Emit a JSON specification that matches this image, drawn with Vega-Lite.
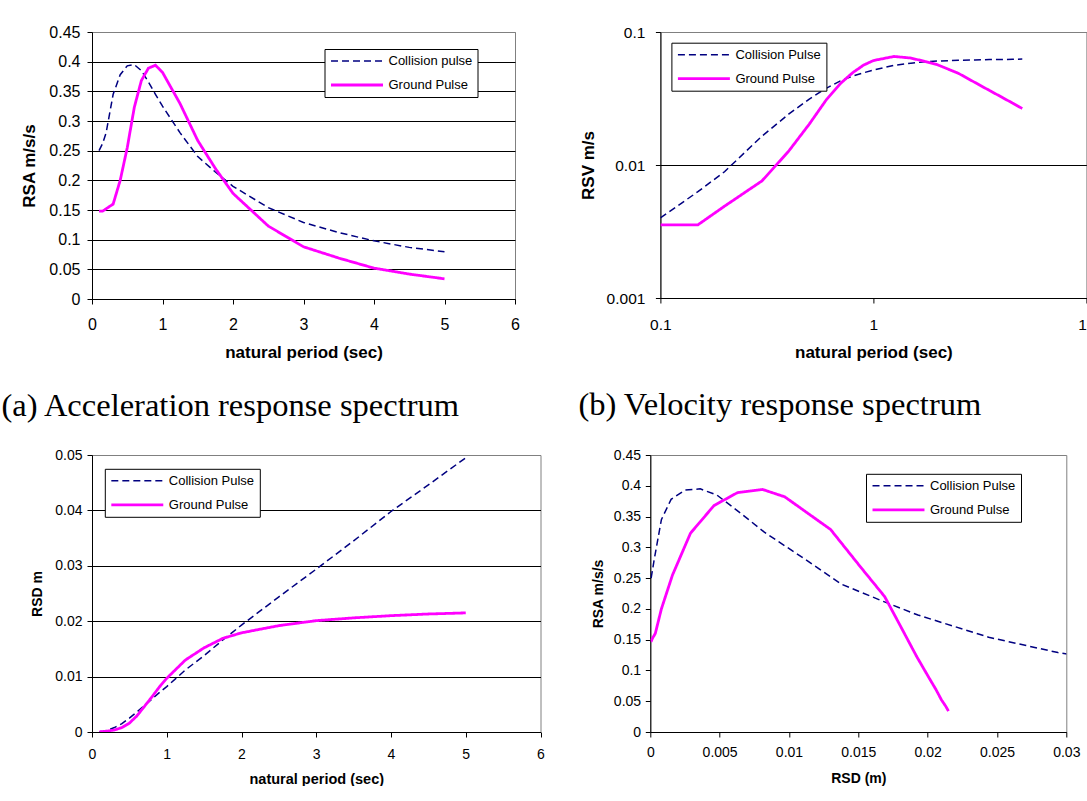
{
  "$schema": "https://vega.github.io/schema/vega-lite/v6.json",
  "background": "white",
  "padding": {"left": 1, "top": 23, "right": 0, "bottom": 0},
  "datasets": {
    "spectra": [
      {"T": 0.1, "series": "Collision Pulse", "RSA": 0.25, "RSV": 0.004, "RSD": 0.00006},
      {"T": 0.15, "series": "Collision Pulse", "RSA": 0.262, "RSV": 0.0063, "RSD": 0.00015},
      {"T": 0.2, "series": "Collision Pulse", "RSA": 0.28, "RSV": 0.0089, "RSD": 0.00028},
      {"T": 0.3, "series": "Collision Pulse", "RSA": 0.345, "RSV": 0.0165, "RSD": 0.0008},
      {"T": 0.4, "series": "Collision Pulse", "RSA": 0.378, "RSV": 0.0241, "RSD": 0.0015},
      {"T": 0.5, "series": "Collision Pulse", "RSA": 0.393, "RSV": 0.0313, "RSD": 0.0025},
      {"T": 0.6, "series": "Collision Pulse", "RSA": 0.395, "RSV": 0.0377, "RSD": 0.0036},
      {"T": 0.7, "series": "Collision Pulse", "RSA": 0.385, "RSV": 0.0429, "RSD": 0.0048},
      {"T": 0.8, "series": "Collision Pulse", "RSA": 0.366, "RSV": 0.0466, "RSD": 0.0059},
      {"T": 0.9, "series": "Collision Pulse", "RSA": 0.345, "RSV": 0.0494, "RSD": 0.0071},
      {"T": 1.0, "series": "Collision Pulse", "RSA": 0.325, "RSV": 0.0517, "RSD": 0.0082},
      {"T": 1.25, "series": "Collision Pulse", "RSA": 0.28, "RSV": 0.0562, "RSD": 0.0112},
      {"T": 1.5, "series": "Collision Pulse", "RSA": 0.24, "RSV": 0.0582, "RSD": 0.0138},
      {"T": 1.75, "series": "Collision Pulse", "RSA": 0.214, "RSV": 0.0598, "RSD": 0.0166},
      {"T": 2.0, "series": "Collision Pulse", "RSA": 0.19, "RSV": 0.0605, "RSD": 0.0193},
      {"T": 2.5, "series": "Collision Pulse", "RSA": 0.154, "RSV": 0.0613, "RSD": 0.0244},
      {"T": 3.0, "series": "Collision Pulse", "RSA": 0.129, "RSV": 0.0616, "RSD": 0.0294},
      {"T": 3.5, "series": "Collision Pulse", "RSA": 0.112, "RSV": 0.062, "RSD": 0.0345},
      {"T": 4.0, "series": "Collision Pulse", "RSA": 0.098, "RSV": 0.0622, "RSD": 0.0398},
      {"T": 4.5, "series": "Collision Pulse", "RSA": 0.087, "RSV": 0.0623, "RSD": 0.0446},
      {"T": 5.0, "series": "Collision Pulse", "RSA": 0.0795, "RSV": 0.0626, "RSD": 0.0495},
      {"T": 0.1, "series": "Ground Pulse", "RSA": 0.148, "RSV": 0.00355, "RSD": 0.00004},
      {"T": 0.15, "series": "Ground Pulse", "RSA": 0.148, "RSV": 0.00355, "RSD": 0.00008},
      {"T": 0.2, "series": "Ground Pulse", "RSA": 0.152, "RSV": 0.0049, "RSD": 0.00015},
      {"T": 0.3, "series": "Ground Pulse", "RSA": 0.16, "RSV": 0.0076, "RSD": 0.00036},
      {"T": 0.4, "series": "Ground Pulse", "RSA": 0.2, "RSV": 0.0127, "RSD": 0.0008},
      {"T": 0.5, "series": "Ground Pulse", "RSA": 0.255, "RSV": 0.0203, "RSD": 0.0016},
      {"T": 0.6, "series": "Ground Pulse", "RSA": 0.323, "RSV": 0.0308, "RSD": 0.0029},
      {"T": 0.7, "series": "Ground Pulse", "RSA": 0.368, "RSV": 0.041, "RSD": 0.0046},
      {"T": 0.8, "series": "Ground Pulse", "RSA": 0.389, "RSV": 0.0495, "RSD": 0.0063},
      {"T": 0.9, "series": "Ground Pulse", "RSA": 0.394, "RSV": 0.0564, "RSD": 0.0081},
      {"T": 1.0, "series": "Ground Pulse", "RSA": 0.382, "RSV": 0.061, "RSD": 0.0097},
      {"T": 1.25, "series": "Ground Pulse", "RSA": 0.329, "RSV": 0.0655, "RSD": 0.013},
      {"T": 1.5, "series": "Ground Pulse", "RSA": 0.267, "RSV": 0.0637, "RSD": 0.0152},
      {"T": 1.75, "series": "Ground Pulse", "RSA": 0.22, "RSV": 0.06, "RSD": 0.0169},
      {"T": 2.0, "series": "Ground Pulse", "RSA": 0.178, "RSV": 0.0567, "RSD": 0.0179},
      {"T": 2.5, "series": "Ground Pulse", "RSA": 0.123, "RSV": 0.049, "RSD": 0.0192},
      {"T": 3.0, "series": "Ground Pulse", "RSA": 0.088, "RSV": 0.0417, "RSD": 0.0201},
      {"T": 3.5, "series": "Ground Pulse", "RSA": 0.069, "RSV": 0.0364, "RSD": 0.0206},
      {"T": 4.0, "series": "Ground Pulse", "RSA": 0.052, "RSV": 0.0324, "RSD": 0.021},
      {"T": 4.5, "series": "Ground Pulse", "RSA": 0.042, "RSV": 0.0292, "RSD": 0.0213},
      {"T": 5.0, "series": "Ground Pulse", "RSA": 0.034, "RSV": 0.0266, "RSD": 0.0215}
    ]
  },
  "spacing": 24,
  "resolve": {
    "scale": {"color": "independent", "strokeDash": "independent", "strokeWidth": "independent"},
    "legend": {"color": "independent", "strokeDash": "independent", "strokeWidth": "independent"}
  },
  "vconcat": [
    {
      "hconcat": [
        {
          "width": 423,
          "height": 267,
          "data": {"name": "spectra"},
          "mark": {"type": "line", "clip": true},
          "title": {"text": "(a) Acceleration response spectrum", "dx": -90.5, "offset": 29},
          "encoding": {
            "x": {"field": "T", "type": "quantitative", "scale": {"domain": [0, 6], "nice": false, "zero": false},
              "axis": {"values": [0, 1, 2, 3, 4, 5, 6], "title": "natural period (sec)", "grid": false, "labelFontSize": 16, "titleFontSize": 17, "labelPadding": 12, "titlePadding": 12.5}},
            "y": {"field": "RSA", "type": "quantitative", "scale": {"domain": [0, 0.45], "nice": false},
              "axis": {"values": [0, 0.05, 0.1, 0.15, 0.2, 0.25, 0.3, 0.35, 0.4, 0.45], "format": "~g", "title": "RSA m/s/s", "grid": true,
                "gridColor": {"condition": {"test": "datum.value > 0.44", "value": "#808080"}, "value": "#000000"},
                "labelFontSize": 16, "titleFontSize": 17, "labelPadding": 7, "titlePadding": 10}},
            "color": {"field": "series", "type": "nominal", "scale": {"domain": ["Collision Pulse", "Ground Pulse"], "range": ["#000080", "#FF00FF"]},
              "legend": {"orient": "none", "legendX": 232.5, "legendY": 17, "title": null, "labelExpr": "datum.label == 'Collision Pulse' ? 'Collision pulse' : datum.label"}},
            "strokeDash": {"field": "series", "type": "nominal", "scale": {"domain": ["Collision Pulse", "Ground Pulse"], "range": [[7, 4], [1, 0]]},
              "legend": {"orient": "none", "legendX": 232.5, "legendY": 17, "title": null, "labelExpr": "datum.label == 'Collision Pulse' ? 'Collision pulse' : datum.label"}},
            "strokeWidth": {"field": "series", "type": "nominal", "scale": {"domain": ["Collision Pulse", "Ground Pulse"], "range": [1.5, 2.8]},
              "legend": {"orient": "none", "legendX": 232.5, "legendY": 17, "title": null, "labelExpr": "datum.label == 'Collision Pulse' ? 'Collision pulse' : datum.label"}},
            "order": {"field": "T", "type": "quantitative"}
          }
        },
        {
          "width": 426,
          "height": 266,
          "data": {"name": "spectra"},
          "mark": {"type": "line", "clip": true},
          "title": {"text": "(b) Velocity response spectrum", "dx": -82, "offset": 29},
          "encoding": {
            "x": {"field": "T", "type": "quantitative", "scale": {"type": "log", "domain": [0.1, 10], "nice": false},
              "axis": {"values": [0.1, 1, 10], "format": "~g", "title": "natural period (sec)", "grid": false, "labelFontSize": 15.5, "titleFontSize": 17, "labelPadding": 14.6, "titlePadding": 11}},
            "y": {"field": "RSV", "type": "quantitative", "scale": {"type": "log", "domain": [0.001, 0.1], "nice": false},
              "axis": {"values": [0.001, 0.01, 0.1], "format": "~g", "title": "RSV m/s", "grid": true,
                "gridColor": {"condition": {"test": "datum.value > 0.05", "value": "#808080"}, "value": "#000000"},
                "labelFontSize": 15.5, "titleFontSize": 17, "labelPadding": 10.5, "titlePadding": 9}},
            "color": {"field": "series", "type": "nominal", "scale": {"domain": ["Collision Pulse", "Ground Pulse"], "range": ["#000080", "#FF00FF"]},
              "legend": {"orient": "none", "legendX": 11, "legendY": 10.7, "title": null}},
            "strokeDash": {"field": "series", "type": "nominal", "scale": {"domain": ["Collision Pulse", "Ground Pulse"], "range": [[7, 4], [1, 0]]},
              "legend": {"orient": "none", "legendX": 11, "legendY": 10.7, "title": null}},
            "strokeWidth": {"field": "series", "type": "nominal", "scale": {"domain": ["Collision Pulse", "Ground Pulse"], "range": [1.5, 2.8]},
              "legend": {"orient": "none", "legendX": 11, "legendY": 10.7, "title": null}},
            "order": {"field": "T", "type": "quantitative"}
          }
        }
      ],
      "spacing": 57.4,
      "resolve": {
        "scale": {"color": "independent", "strokeDash": "independent", "strokeWidth": "independent"},
        "legend": {"color": "independent", "strokeDash": "independent", "strokeWidth": "independent"}
      }
    },
    {
      "hconcat": [
        {
          "width": 448.5,
          "height": 277,
          "data": {"name": "spectra"},
          "mark": {"type": "line", "clip": true},
          "encoding": {
            "x": {"field": "T", "type": "quantitative", "scale": {"domain": [0, 6], "nice": false, "zero": false},
              "axis": {"values": [0, 1, 2, 3, 4, 5, 6], "title": "natural period (sec)", "grid": false, "labelFontSize": 14, "titleFontSize": 14.5, "labelPadding": 10, "titlePadding": 11}},
            "y": {"field": "RSD", "type": "quantitative", "scale": {"domain": [0, 0.05], "nice": false},
              "axis": {"values": [0, 0.01, 0.02, 0.03, 0.04, 0.05], "format": "~g", "title": "RSD m", "grid": true,
                "gridColor": {"condition": {"test": "datum.value > 0.045", "value": "#808080"}, "value": "#000000"},
                "labelFontSize": 14, "titleFontSize": 14, "labelPadding": 5, "titlePadding": 10}},
            "color": {"field": "series", "type": "nominal", "scale": {"domain": ["Collision Pulse", "Ground Pulse"], "range": ["#000080", "#FF00FF"]},
              "legend": {"orient": "none", "legendX": 12.8, "legendY": 13.8, "title": null}},
            "strokeDash": {"field": "series", "type": "nominal", "scale": {"domain": ["Collision Pulse", "Ground Pulse"], "range": [[7, 4], [1, 0]]},
              "legend": {"orient": "none", "legendX": 12.8, "legendY": 13.8, "title": null}},
            "strokeWidth": {"field": "series", "type": "nominal", "scale": {"domain": ["Collision Pulse", "Ground Pulse"], "range": [1.5, 2.8]},
              "legend": {"orient": "none", "legendX": 12.8, "legendY": 13.8, "title": null}},
            "order": {"field": "T", "type": "quantitative"}
          }
        },
        {
          "width": 416,
          "height": 277,
          "data": {"name": "spectra"},
          "mark": {"type": "line", "clip": true},
          "encoding": {
            "x": {"field": "RSD", "type": "quantitative", "scale": {"domain": [0, 0.03], "nice": false, "zero": false},
              "axis": {"values": [0, 0.005, 0.01, 0.015, 0.02, 0.025, 0.03], "format": "~g", "title": "RSD (m)", "grid": false, "labelFontSize": 14, "titleFontSize": 14, "labelPadding": 8.5, "titlePadding": 12}},
            "y": {"field": "RSA", "type": "quantitative", "scale": {"domain": [0, 0.45], "nice": false},
              "axis": {"values": [0, 0.05, 0.1, 0.15, 0.2, 0.25, 0.3, 0.35, 0.4, 0.45], "format": "~g", "title": "RSA m/s/s", "grid": false,
                "labelFontSize": 14, "titleFontSize": 14, "labelPadding": 4.7, "titlePadding": 8}},
            "color": {"field": "series", "type": "nominal", "scale": {"domain": ["Collision Pulse", "Ground Pulse"], "range": ["#000080", "#FF00FF"]},
              "legend": {"orient": "none", "legendX": 215.7, "legendY": 18.8, "title": null}},
            "strokeDash": {"field": "series", "type": "nominal", "scale": {"domain": ["Collision Pulse", "Ground Pulse"], "range": [[7, 4], [1, 0]]},
              "legend": {"orient": "none", "legendX": 215.7, "legendY": 18.8, "title": null}},
            "strokeWidth": {"field": "series", "type": "nominal", "scale": {"domain": ["Collision Pulse", "Ground Pulse"], "range": [1.5, 2.8]},
              "legend": {"orient": "none", "legendX": 215.7, "legendY": 18.8, "title": null}},
            "order": {"field": "T", "type": "quantitative"}
          }
        }
      ],
      "spacing": 45.3,
      "resolve": {
        "scale": {"color": "independent", "strokeDash": "independent", "strokeWidth": "independent"},
        "legend": {"color": "independent", "strokeDash": "independent", "strokeWidth": "independent"}
      }
    }
  ],
  "config": {
    "font": "Liberation Sans",
    "view": {"stroke": "#808080", "strokeWidth": 1},
    "axis": {
      "domainColor": "#000000", "domainWidth": 1,
      "tickColor": "#000000", "tickSize": 5, "tickWidth": 1,
      "gridColor": "#000000", "gridWidth": 1, "gridOpacity": 1,
      "labelColor": "#000000", "titleColor": "#000000",
      "labelFont": "Liberation Sans", "titleFont": "Liberation Sans",
      "titleFontWeight": "bold", "labelFlush": false, "labelOverlap": false
    },
    "legend": {
      "strokeColor": "#000000", "fillColor": "#ffffff", "padding": 5,
      "labelFont": "Liberation Sans", "labelFontSize": 13, "labelColor": "#000000",
      "symbolType": "stroke", "symbolSize": 2700, "clipHeight": 14, "rowPadding": 10, "labelOffset": 4
    },
    "title": {
      "font": "Liberation Serif", "fontSize": 32.5, "fontWeight": "normal", "color": "#000000",
      "orient": "bottom", "anchor": "start", "frame": "group"
    }
  }
}
